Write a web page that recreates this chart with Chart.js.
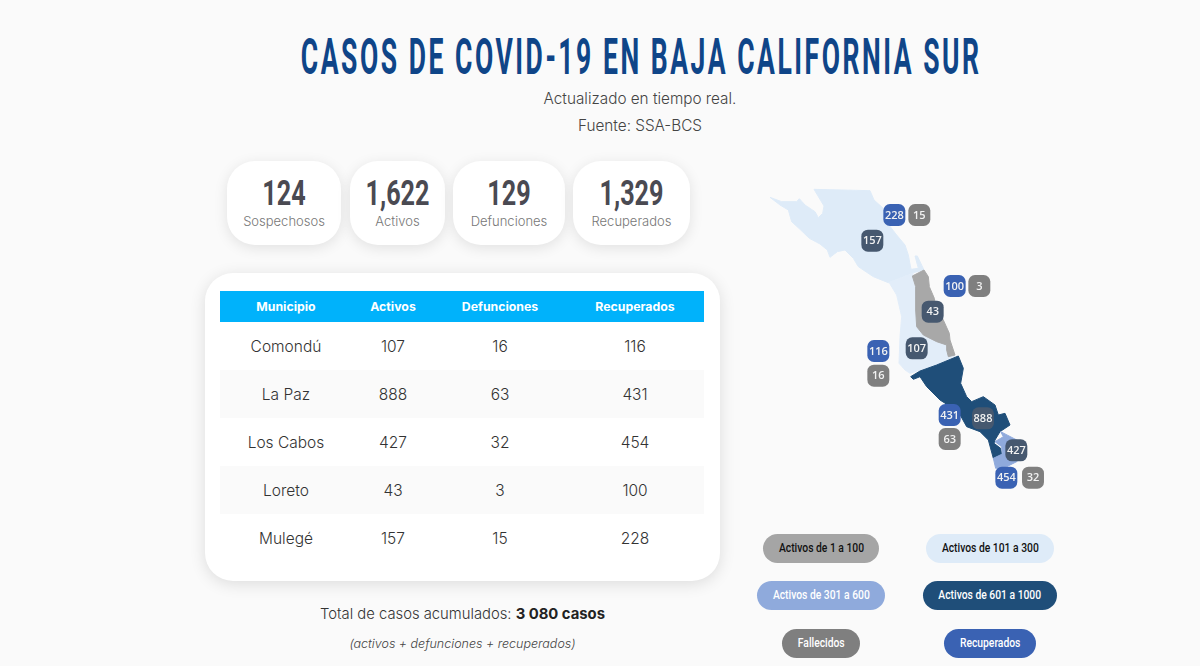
<!DOCTYPE html>
<html>
<head>
	<meta charset="utf-8">
	<title>Casos de COVID-19 en Baja California Sur</title>
	<script src="https://cdn.jsdelivr.net/npm/chart.js@4"></script>
	<style>
		html, body { margin: 0; padding: 0; width: 1200px; height: 666px; overflow: hidden; background: #fafafa; font-family: Inter, "Open Sans", sans-serif; }
		.abs { position: absolute; text-align: center; white-space: nowrap; }
		#title { left: 0; width: 1280px; top: 27px; height: 60px; font: 700 50px/60px Roboto, sans-serif; color: #0f4588; letter-spacing: 4.8px; transform: scaleX(.53); transform-origin: 640px 0; }
		.sub { left: 440px; width: 400px; font-size: 15.3px; color: #444; line-height: 20px; font-weight: 300; }
		.card { position: absolute; top: 161px; height: 84px; background: #fff; border-radius: 28px; box-shadow: 0 3px 14px rgba(0,0,0,.10); text-align: center; }
		.card b { display: block; margin-top: 15px; height: 36px; font: 700 35px/36px Roboto, sans-serif; color: #4a4a52; transform: scaleX(.72); }
		.card span { display: block; margin-top: 0; font-size: 13px; line-height: 18px; color: #777; font-weight: 300; }
		#panel { position: absolute; left: 205px; top: 273px; width: 515px; height: 308px; background: #fff; border-radius: 28px; box-shadow: 0 3px 16px rgba(0,0,0,.12); }
		#tbl { position: absolute; left: 220px; top: 291px; width: 484px; border-collapse: collapse; table-layout: fixed; font-size: 15.5px; color: #333; font-weight: 300; }
		#tbl th { height: 31px; padding: 0; background: #00b2fb; color: #fff; font-size: 12.3px; font-weight: 700; }
		#tbl td { height: 48px; padding: 0; text-align: center; }
		#tbl tr:nth-child(even) td { background: #fafafa; }
		.pill { position: absolute; border-radius: 15px; text-align: center; font: 500 12px/29px Roboto, sans-serif; white-space: nowrap; }
		.pill span { display: inline-block; transform: scaleX(.86); }
		#map { position: absolute; left: 750px; top: 170px; width: 320px; height: 340px; }
	</style>
</head>
<body>
	<div id="title" class="abs">CASOS DE COVID-19 EN BAJA CALIFORNIA SUR</div>
	<div class="abs sub" style="top:89px">Actualizado en tiempo real.</div>
	<div class="abs sub" style="top:116px">Fuente: SSA-BCS</div>
	<div id="cards"></div>
	<div id="panel"></div>
	<table id="tbl"><thead><tr id="head"></tr></thead><tbody id="rows"></tbody></table>
	<div class="abs" style="left:205px;width:515px;top:604px;font-size:14.8px;line-height:20px;color:#333;font-weight:300">Total de casos acumulados: <b style="font-weight:700;color:#222">3 080 casos</b></div>
	<div class="abs" style="left:205px;width:515px;top:635px;font-size:12.5px;line-height:18px;color:#444;font-weight:300;font-style:italic">(activos + defunciones + recuperados)</div>
	<div id="legend"></div>
	<div id="map"><canvas id="chart" width="320" height="340"></canvas></div>

	<script type="text/javascript">
		var summaryLabels = ['Sospechosos', 'Activos', 'Defunciones', 'Recuperados'];
		var summaryValues = ['124', '1,622', '129', '1,329'];

		var tableHead = ['Municipio', 'Activos', 'Defunciones', 'Recuperados'];
		var municipios = ['Comondú', 'La Paz', 'Los Cabos', 'Loreto', 'Mulegé'];
		var activos = [107, 888, 427, 43, 157];
		var defunciones = [16, 63, 32, 3, 15];
		var recuperados = [116, 431, 454, 100, 228];

		var legendLabels = ['Activos de 1 a 100', 'Activos de 101 a 300', 'Activos de 301 a 600', 'Activos de 601 a 1000', 'Fallecidos', 'Recuperados'];

		// outlines of each municipio, in map units
		var mulegeShape = [[60,82],[95,95],[140,95],[148,86],[165,105],[195,125],[205,143],[218,130],[222,108],[192,58],[360,62],[372,90],[400,115],[405,150],[440,195],[465,225],[475,255],[483,298],[505,295],[495,258],[502,258],[522,300],[490,308],[415,338],[370,320],[325,290],[310,265],[285,240],[262,245],[240,262],[232,240],[210,222],[178,205],[150,178],[125,155],[115,120],[90,105]];
		var comonduShape = [[417,337],[490,310],[487,320],[497,350],[500,470],[520,495],[560,515],[590,525],[605,545],[615,558],[590,570],[555,585],[510,600],[480,610],[465,600],[447,580],[450,500],[455,440],[440,375]];
		var loretoShape = [[487,318],[522,300],[535,320],[538,350],[553,385],[560,420],[580,450],[598,490],[600,510],[615,555],[595,560],[590,540],[590,525],[560,515],[520,495],[500,470],[497,420],[497,350]];
		var laPazShape = [[482,620],[510,603],[560,585],[625,558],[640,595],[632,640],[650,680],[665,695],[700,680],[735,705],[745,735],[765,730],[780,765],[750,785],[735,810],[732,820],[752,835],[755,855],[730,865],[715,810],[690,785],[650,770],[625,725],[570,690],[530,650],[510,620],[490,628]];
		var losCabosShape = [[752,785],[810,815],[825,850],[800,875],[770,890],[737,895],[730,865],[757,852],[755,830],[735,815],[752,805],[760,800]];

		// badge anchors, same order as municipios
		var activosAnchors = [[500,535],[699,745],[799,841],[548,425],[367,212]];
		var recuperadosAnchors = [[385,543],[599,735],[769,923],[614,348],[433,135]];
		var defuncionesAnchors = [[385,617],[599,807],[849,923],[688,348],[508,135]];

		// cards
		var cardBoxes = [[227,114],[350,95],[453,112],[573,117]];
		summaryValues.forEach(function(v, i){
			var d = document.createElement('div');
			d.className = 'card';
			d.style.left = cardBoxes[i][0] + 'px';
			d.style.width = cardBoxes[i][1] + 'px';
			d.innerHTML = '<b>' + v + '</b><span>' + summaryLabels[i] + '</span>';
			document.getElementById('cards').appendChild(d);
		});

		// table
		var colWidths = [132, 82, 132, 138];
		tableHead.forEach(function(h, i){
			var th = document.createElement('th');
			th.style.width = colWidths[i] + 'px';
			th.textContent = h;
			document.getElementById('head').appendChild(th);
		});
		municipios.forEach(function(m, i){
			var tr = document.createElement('tr');
			[m, activos[i], defunciones[i], recuperados[i]].forEach(function(v){
				var td = document.createElement('td');
				td.textContent = v;
				tr.appendChild(td);
			});
			document.getElementById('rows').appendChild(tr);
		});

		// legend pills
		var pillBoxes = [[763,534,116,'#a5a5a5','#111'],[926,534,128,'#deebf8','#111'],[757,581,128,'#8faadc','#fff'],[923,581,134,'#1f4e79','#fff'],[782,629,78,'#7f7f7f','#fff'],[944,629,92,'#3a62b3','#fff']];
		legendLabels.forEach(function(l, i){
			var b = pillBoxes[i];
			var d = document.createElement('div');
			d.className = 'pill';
			d.style.left = b[0] + 'px';
			d.style.top = b[1] + 'px';
			d.style.width = b[2] + 'px';
			d.style.height = '29px';
			d.style.background = b[3];
			d.style.color = b[4];
			d.innerHTML = '<span>' + l + '</span>';
			document.getElementById('legend').appendChild(d);
		});

		function outline(shape){
			var pts = shape.map(function(p){ return {x: p[0], y: p[1]}; });
			pts.push(pts[0]);
			return pts;
		}
		function region(shape, color){
			return {type: 'line', data: outline(shape), backgroundColor: color, borderColor: color, borderWidth: 1, fill: 'shape', pointRadius: 0, tension: 0};
		}
		function badges(anchors, values, color){
			return {
				type: 'scatter',
				data: anchors.map(function(p, i){ return {x: p[0], y: p[1], v: values[i]}; }),
				pointStyle: 'rectRounded',
				pointRadius: 12.8,
				pointHoverRadius: 12.8,
				backgroundColor: color,
				borderWidth: 0
			};
		}

		var badgeText = {
			id: 'badgeText',
			afterDatasetsDraw: function(c){
				var ctx = c.ctx;
				ctx.save();
				ctx.font = '600 11px "Open Sans", sans-serif';
				ctx.fillStyle = '#f2f2f2';
				ctx.textAlign = 'center';
				ctx.textBaseline = 'middle';
				c.data.datasets.forEach(function(ds){
					if (ds.type !== 'scatter') return;
					ds.data.forEach(function(p){
						ctx.fillText(p.v, c.scales.x.getPixelForValue(p.x), c.scales.y.getPixelForValue(p.y) + 0.5);
					});
				});
				ctx.restore();
			}
		};

		// chart.js paints the last dataset first, so the badges go at the front of the list
		var chart1 = new Chart(document.getElementById('chart'), {
			type: 'scatter',
			data: {
				datasets: [
					badges(activosAnchors, activos, '#46586f'),
					badges(recuperadosAnchors, recuperados, '#3a62b3'),
					badges(defuncionesAnchors, defunciones, '#7f7f7f'),
					region(losCabosShape, '#8faadc'),
					region(laPazShape, '#1f4e79'),
					region(loretoShape, '#a8a8a8'),
					region(comonduShape, '#e2edf9'),
					region(mulegeShape, '#deebf8')
				]
			},
			options: {
				responsive: false,
				animation: false,
				layout: {padding: 0, autoPadding: false},
				plugins: {legend: {display: false}, tooltip: {enabled: false}, filler: {propagate: false}},
				scales: {
					x: {type: 'linear', display: false, min: 0, max: 960},
					y: {type: 'linear', display: false, min: 0, max: 1020, reverse: true}
				}
			},
			plugins: [badgeText]
		});
	</script>
</body>
</html>
